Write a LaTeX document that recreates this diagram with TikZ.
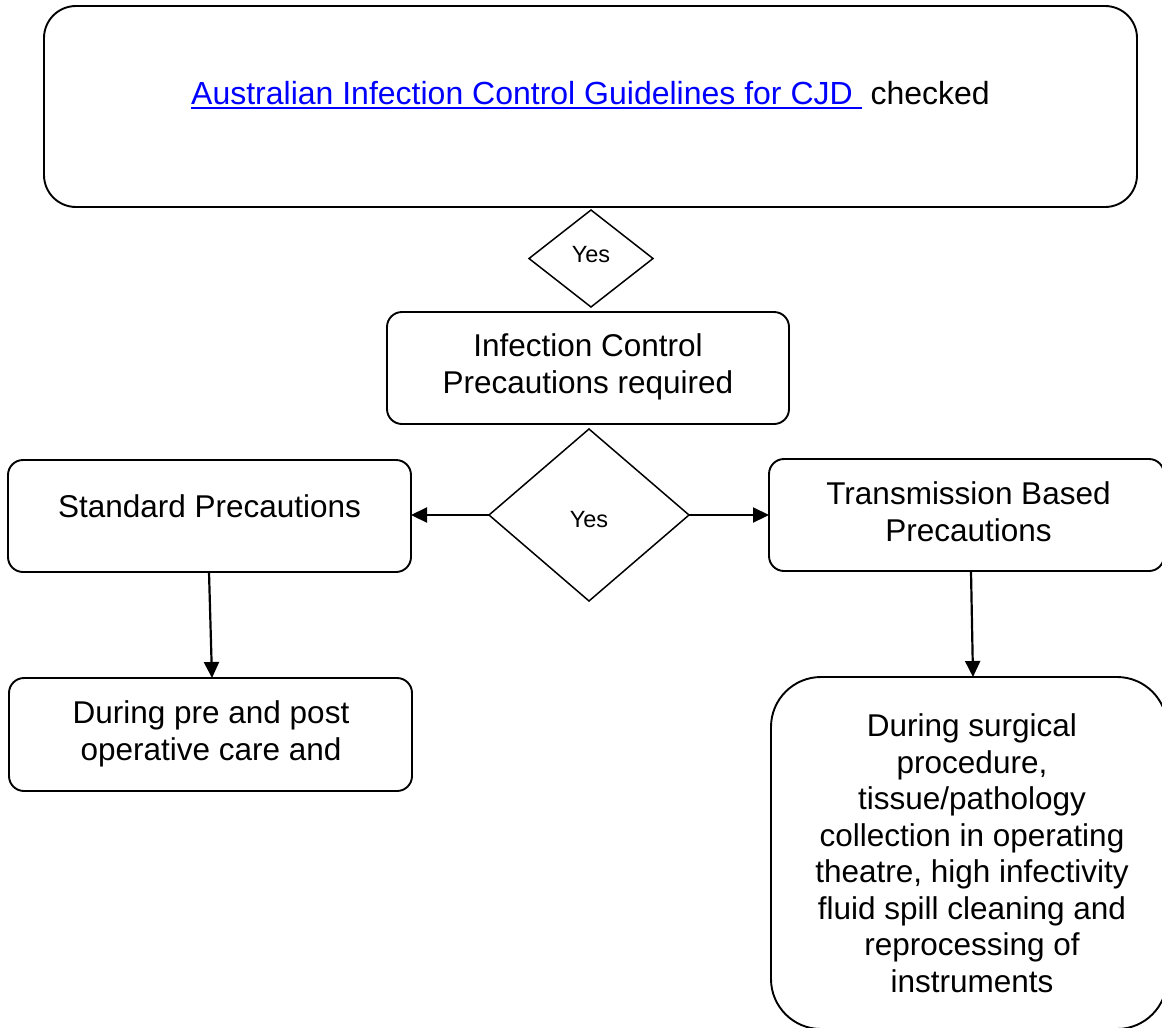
\documentclass[tikz,border=0pt]{standalone}
\usepackage{fontspec}
\setmainfont{Liberation Sans}
\usetikzlibrary{shapes.geometric,arrows.meta}
\newcommand\myul[1]{\setbox0\hbox{#1}\rlap{\rule[-4.9pt]{\wd0}{2.8pt}}\box0}
\begin{document}
\begin{tikzpicture}[x=1pt,y=-1pt,
  box/.style={draw,line width=1.9pt,rounded corners=15pt,inner sep=0pt,outer sep=0pt},
  dia/.style={draw,diamond,line width=1.5pt,inner sep=0pt,outer sep=0pt},
  txt/.style={font=\fontsize{31.5}{37}\selectfont,align=center,inner sep=0pt},
  yes/.style={font=\fontsize{23.5}{27}\selectfont,inner sep=0pt},
  arr/.style={line width=2.2pt,-{Triangle[length=16pt,width=15pt]}}]
\path[use as bounding box] (0,0) rectangle (1162,1028);
\clip (0,0) rectangle (1162,1028);
\fill[white] (0,0) rectangle (1162,1028);

\node[box,rounded corners=32pt,minimum width=1093pt,minimum height=201pt] (top) at (590.5,106.5) {};
\node[anchor=base west,inner sep=0pt,font=\fontsize{32}{37}\selectfont] (link) at (191,104.5)
  {\textcolor{blue}{\myul{Australian Infection Control Guidelines for CJD\ }}\ checked};

\node[dia,minimum width=124pt,minimum height=97pt] (d1) at (591,258.5) {};
\node[yes,anchor=base] (y1) at (591,262) {Yes};

\node[box,minimum width=402pt,minimum height=112pt] (icp) at (588,368) {};
\node[txt,anchor=base] (icpt) at (588,393.5) {Infection Control\\Precautions required};

\node[dia,minimum width=200pt,minimum height=172pt] (d2) at (589,515) {};
\node[yes,anchor=base] (y2) at (589,527) {Yes};

\node[box,minimum width=403pt,minimum height=112pt] (std) at (209.5,516) {};
\node[txt,anchor=base] (stdt) at (209.5,517) {Standard Precautions};

\node[box,minimum width=395pt,minimum height=112pt] (tbp) at (966.5,515) {};
\node[txt,anchor=base] (tbpt) at (968.5,541.5) {Transmission Based\\Precautions};

\node[box,minimum width=403pt,minimum height=113pt] (bl) at (210.5,734.5) {};
\node[txt,anchor=base] (blt) at (211,760) {During pre and post\\operative care and};

\node[box,rounded corners=50pt,minimum width=396pt,minimum height=352pt] (br) at (969,853) {};
\node[txt,anchor=base,font=\fontsize{31.5}{36.5}\selectfont] (brt) at (972,992)
  {During surgical\\procedure,\\tissue/pathology\\collection in operating\\theatre, high infectivity\\fluid spill cleaning and\\reprocessing of\\instruments};

\draw[arr] (d2.west) -- (d2.west -| std.east);
\draw[arr] (d2.east) -- (d2.east -| tbp.west);
\draw[arr] ([xshift=-0.5pt]std.south) -- ([xshift=1.5pt]bl.north);
\draw[arr] ([xshift=4.5pt]tbp.south) -- ([xshift=4pt]br.north);
\end{tikzpicture}
\end{document}
